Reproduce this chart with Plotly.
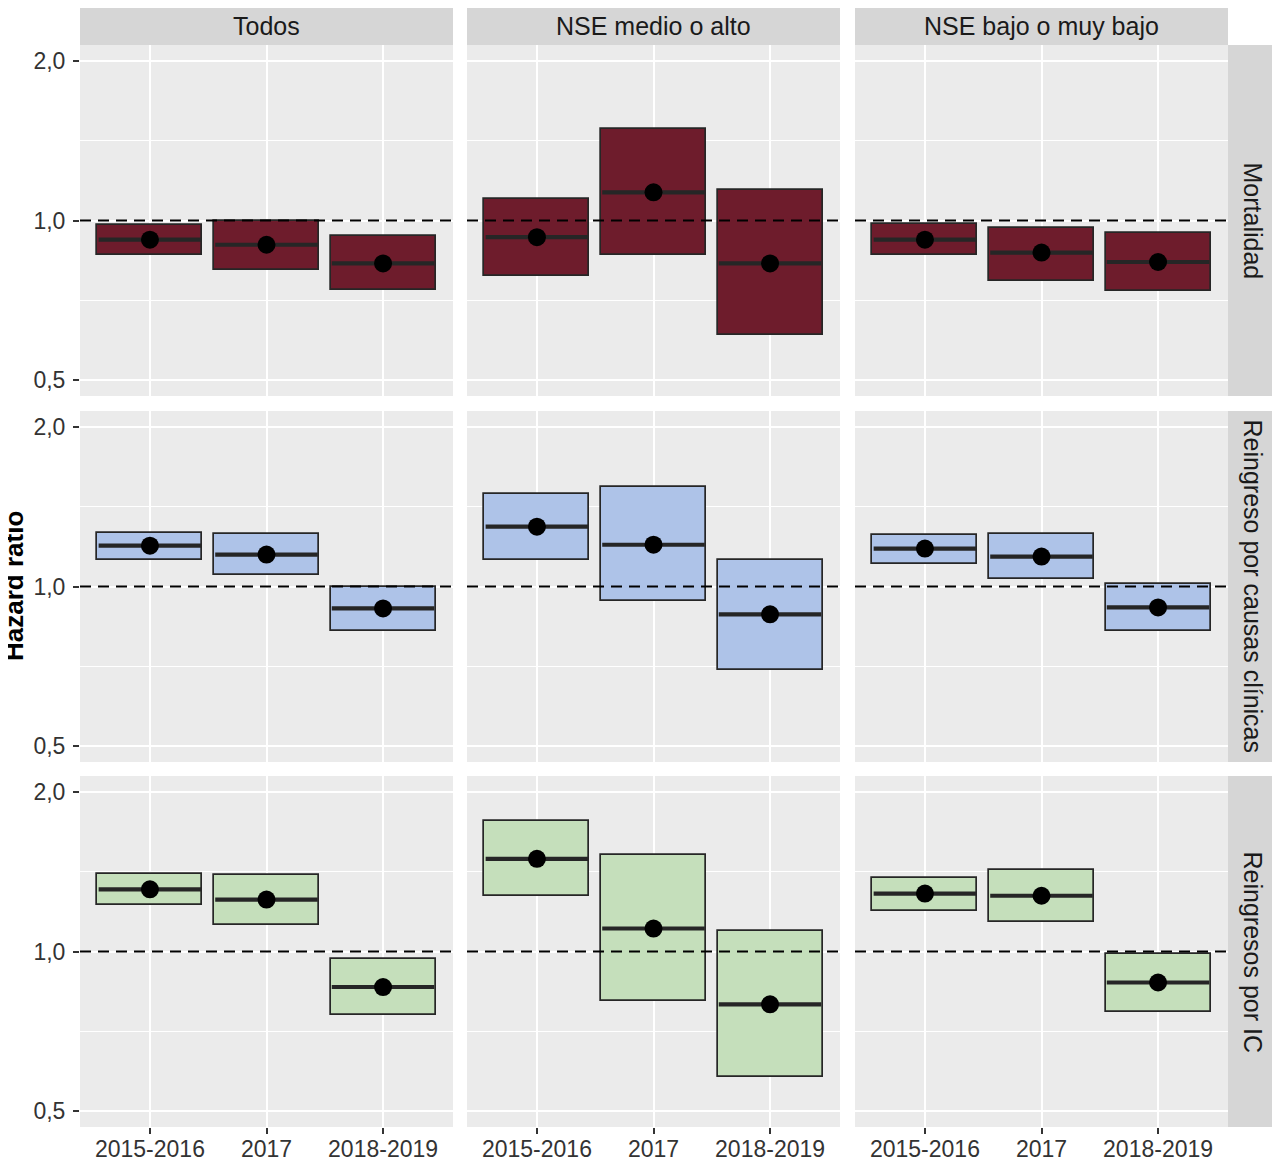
import math
import plotly.graph_objects as go

periods = ["2015-2016", "2017", "2018-2019"]
groups = ["Todos", "NSE medio o alto", "NSE bajo o muy bajo"]
outcomes = ["Mortalidad", "Reingreso por causas clínicas", "Reingresos por IC"]
fills = ["#6E1C2C", "#AEC3E8", "#C5DFBB"]

# hazard ratio e IC95%, una fila por grupo (Todos, NSE medio o alto, NSE bajo o muy bajo)
mort_hr = [[0.92, 0.90, 0.83], [0.93, 1.13, 0.83], [0.92, 0.87, 0.835]]
mort_lo = [[0.86, 0.806, 0.74], [0.787, 0.86, 0.607], [0.86, 0.77, 0.736]]
mort_hi = [[0.98, 1.00, 0.935], [1.10, 1.485, 1.142], [0.985, 0.97, 0.947]]

clin_hr = [[1.194, 1.149, 0.909], [1.297, 1.199, 0.886], [1.179, 1.139, 0.913]]
clin_lo = [[1.124, 1.049, 0.826], [1.124, 0.941, 0.695], [1.105, 1.031, 0.823]]
clin_hi = [[1.263, 1.258, 0.996], [1.496, 1.542, 1.124], [1.253, 1.258, 1.013]]

ic_hr = [[1.31, 1.253, 0.857], [1.496, 1.105, 0.795], [1.286, 1.274, 0.874]]
ic_lo = [[1.226, 1.123, 0.76], [1.271, 0.805, 0.579], [1.194, 1.139, 0.768]]
ic_hi = [[1.40, 1.393, 0.966], [1.76, 1.522, 1.091], [1.378, 1.426, 0.991]]

hr = [mort_hr, clin_hr, ic_hr]
lo = [mort_lo, clin_lo, ic_lo]
hi = [mort_hi, clin_hi, ic_hi]

ytickvals = [0.5, 1, 2]
yticktext = ["0,5", "1,0", "2,0"]
yminor = [2 ** -0.5, 2 ** 0.5]

# the page puts the figure 8px in from the top-left corner
OFF = 8
W, H = 1272, 1152
FONT = "Liberation Sans, Arial, sans-serif"
col_px = [(80, 453), (467, 840), (855, 1228)]
row_px = [(45, 396), (411, 762), (776, 1127)]


def fx(px):
    return (px - OFF) / W


def fy(py):
    return min(1, 1 - (py - OFF) / H)


xs = list(range(len(periods)))
xlim = [-0.6, len(periods) - 0.4]
half = 0.45
ylim = math.log10(2) * 1.1

fig = go.Figure()
layout = {}

for r in range(3):
    for c in range(3):
        k = r * 3 + c + 1
        sx = "" if k == 1 else str(k)
        xa, ya = "x" + sx, "y" + sx
        est = hr[r][c]
        low = lo[r][c]
        high = hi[r][c]

        fig.add_trace(go.Bar(
            x=xs, y=[h - l for h, l in zip(high, low)], base=low, width=0.9,
            marker=dict(color=fills[r], line=dict(color="#262626", width=1.7)),
            xaxis=xa, yaxis=ya, showlegend=False, hoverinfo="skip"))

        mx, my = [], []
        for i, e in zip(xs, est):
            mx += [i - half + 0.01, i + half - 0.01, None]
            my += [e, e, None]
        fig.add_trace(go.Scatter(
            x=mx, y=my, mode="lines", line=dict(color="#262626", width=4.2),
            xaxis=xa, yaxis=ya, showlegend=False, hoverinfo="skip"))

        fig.add_trace(go.Scatter(
            x=xs, y=est, mode="markers", marker=dict(color="black", size=18),
            xaxis=xa, yaxis=ya, showlegend=False, hoverinfo="skip"))

        fig.add_trace(go.Scatter(
            x=xlim, y=[1, 1], mode="lines",
            line=dict(color="black", width=1.8, dash="11px,7px"),
            xaxis=xa, yaxis=ya, showlegend=False, hoverinfo="skip"))

        bottom = r == 2
        left = c == 0
        layout["xaxis" + sx] = dict(
            domain=[fx(col_px[c][0]), fx(col_px[c][1])], anchor=ya,
            range=xlim, tickvals=xs, ticktext=periods,
            showticklabels=bottom, ticks="outside" if bottom else "",
            ticklen=6, tickwidth=1.5, tickcolor="#333333",
            showgrid=True, gridcolor="white", gridwidth=1.6,
            zeroline=False, showline=False, automargin=False,
            ticklabelstandoff=-5,
            tickfont=dict(family=FONT, size=23, color="#333333"))
        layout["yaxis" + sx] = dict(
            domain=[fy(row_px[r][1]), fy(row_px[r][0])], anchor=xa,
            type="log", range=[-ylim, ylim],
            tickvals=ytickvals, ticktext=yticktext,
            showticklabels=left, ticks="outside" if left else "",
            ticklen=6, tickwidth=1.5, tickcolor="#333333",
            showgrid=True, gridcolor="white", gridwidth=1.6,
            minor=dict(tickvals=yminor, showgrid=True, gridcolor="white",
                       gridwidth=0.8, ticks=""),
            zeroline=False, showline=False, automargin=False,
            ticklabelstandoff=3,
            tickfont=dict(family=FONT, size=23, color="#333333"))

shapes = []
annotations = []
for c, g in enumerate(groups):
    shapes.append(dict(type="rect", xref="paper", yref="paper",
                       x0=fx(col_px[c][0]), x1=fx(col_px[c][1]),
                       y0=fy(45), y1=fy(2), fillcolor="#D6D6D6",
                       line=dict(width=0), layer="below"))
    annotations.append(dict(text=g, xref="paper", yref="paper",
                            x=fx((col_px[c][0] + col_px[c][1]) / 2), y=fy(26),
                            showarrow=False, xanchor="center", yanchor="middle",
                            font=dict(family=FONT, size=25, color="#1A1A1A")))
for r, o in enumerate(outcomes):
    shapes.append(dict(type="rect", xref="paper", yref="paper",
                       x0=fx(1228), x1=fx(1278),
                       y0=fy(row_px[r][1]), y1=fy(row_px[r][0]),
                       fillcolor="#D6D6D6", line=dict(width=0), layer="below"))
    annotations.append(dict(text=o, xref="paper", yref="paper",
                            x=fx(1253), y=fy((row_px[r][0] + row_px[r][1]) / 2),
                            showarrow=False, textangle=90,
                            xanchor="center", yanchor="middle",
                            font=dict(family=FONT, size=25, color="#1A1A1A")))

annotations.append(dict(text="<b>Hazard ratio</b>", xref="paper", yref="paper",
                        x=fx(14), y=fy(586), showarrow=False, textangle=-90,
                        xanchor="center", yanchor="middle",
                        font=dict(family=FONT, size=26, color="black")))

fig.update_layout(
    width=W, height=H,
    margin=dict(l=0, r=0, t=0, b=0),
    paper_bgcolor="white", plot_bgcolor="#EBEBEB",
    shapes=shapes, annotations=annotations,
    hovermode=False, showlegend=False, bargap=0,
    **layout)

fig.write_html("out.html")
